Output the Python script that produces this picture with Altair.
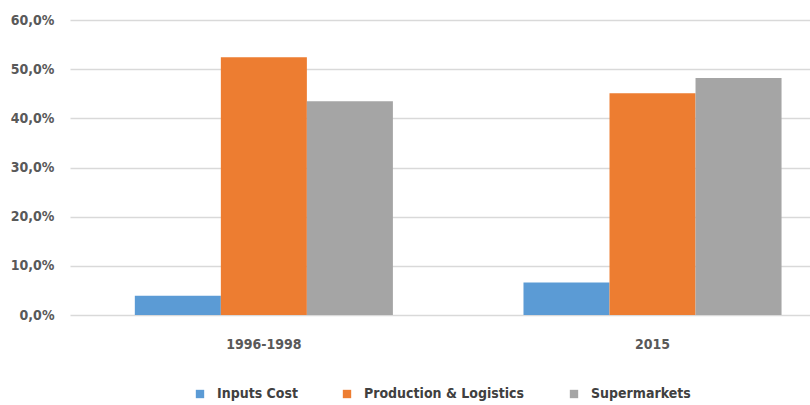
import altair as alt
import pandas as pd

periods = ["1996-1998", "2015"]
series = ["Inputs Cost", "Production & Logistics", "Supermarkets"]
inputs_cost = [3.9, 6.6]
production_logistics = [52.4, 45.1]
supermarkets = [43.5, 48.2]
colors = ["#5B9BD5", "#ED7D31", "#A5A5A5"]
y_ticks = [0, 10, 20, 30, 40, 50, 60]

rows = []
for i, p in enumerate(periods):
    for s, vals in zip(series, [inputs_cost, production_logistics, supermarkets]):
        rows.append({"period": p, "series": s, "value": vals[i]})
df = pd.DataFrame(rows)

FONT = "DejaVu Sans Condensed, sans-serif"
TXT = "#595959"

chart = alt.Chart(df).mark_bar().encode(
    x=alt.X("period:N", sort=periods, title=None,
            scale=alt.Scale(paddingInner=0.336, paddingOuter=0.12, align=0.695),
            axis=alt.Axis(labelAngle=0, ticks=False, domain=False, grid=False,
                          labelPadding=22, labelLimit=0,
                          labelFont=FONT, labelFontSize=14, labelFontWeight="bold",
                          labelColor=TXT)),
    xOffset=alt.XOffset("series:N", sort=series),
    y=alt.Y("value:Q", title=None,
            scale=alt.Scale(domain=[0, 60], nice=False),
            axis=alt.Axis(values=y_ticks, ticks=False, domain=False, labelPadding=16,
                          labelExpr="replace(format(datum.value, '.1f'), '.', ',') + '%'",
                          labelFont=FONT, labelFontSize=14, labelFontWeight="bold",
                          labelColor=TXT, gridColor="#D9D9D9", gridWidth=1.4)),
    color=alt.Color("series:N", sort=series, title=None,
                    scale=alt.Scale(domain=series, range=colors),
                    legend=alt.Legend(orient="none", direction="horizontal",
                                      legendX=123, legendY=367,
                                      symbolType="square", symbolSize=70,
                                      symbolStrokeWidth=0, columnPadding=42,
                                      labelLimit=0,
                                      labelFont=FONT, labelFontSize=14,
                                      labelFontWeight="bold", labelColor="#404040",
                                      labelOffset=10)),
).properties(
    width=740, height=295,
    autosize=alt.AutoSizeParams(type="none"),
    padding={"left": 70, "top": 20, "right": 0, "bottom": 90},
    background="white",
).configure_view(stroke=None)

chart.save("out.html", embed_options={"renderer": "svg", "actions": False})
